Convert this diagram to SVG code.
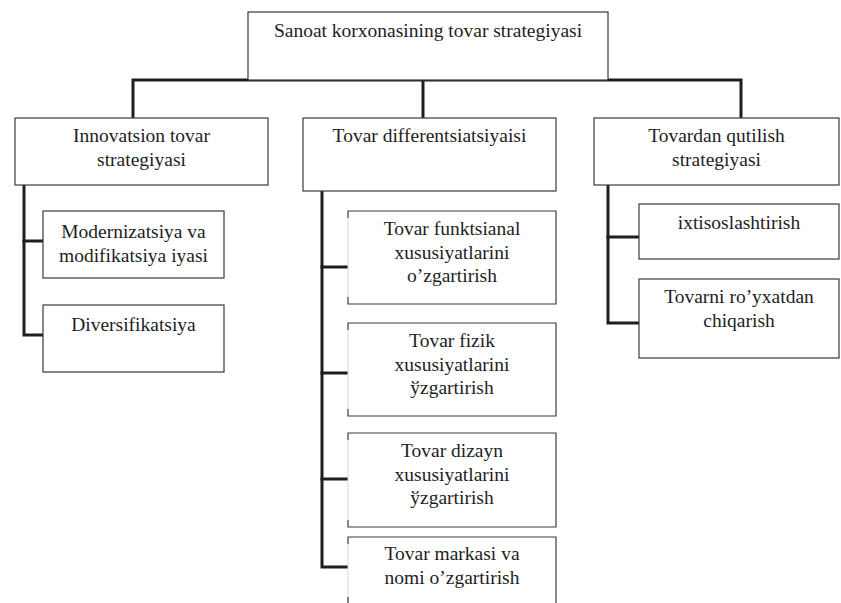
<svg xmlns="http://www.w3.org/2000/svg" width="841" height="603" viewBox="0 0 841 603">
  <style>
    .box { fill: #ffffff; stroke: #3a3a3a; stroke-width: 1.2; }
    .edge { fill: none; stroke: #3a3a3a; stroke-width: 1.2; }
    .faint { fill: none; stroke: #d8d8d8; stroke-width: 1; }
    .link { fill: none; stroke: #1e1e1e; stroke-width: 3; stroke-linejoin: miter; stroke-linecap: square; }
  </style>

  <rect width="841" height="603" fill="#ffffff"/>

  <!-- connectors -->
  <g id="connectors">
    <path class="link" d="M133,117 V80 H741 V117"/>
    <path class="link" d="M423,80 V117"/>
    <!-- left branch -->
    <path class="link" d="M24,186 V335 H42"/>
    <path class="link" d="M24,241 H42"/>
    <!-- middle branch -->
    <path class="link" d="M322,192 V567 H347"/>
    <path class="link" d="M322,267 H347"/>
    <path class="link" d="M322,373 H347"/>
    <path class="link" d="M322,479 H347"/>
    <!-- right branch -->
    <path class="link" d="M608,186 V323 H638"/>
    <path class="link" d="M608,237 H638"/>
  </g>

  <g font-family="Liberation Serif, serif" font-size="19.5" fill="#1e1e1e" text-anchor="middle">
  <!-- root -->
  <g id="root">
    <rect class="box" x="248" y="12" width="360" height="68"/>
    <text x="428" y="37">Sanoat korxonasining tovar strategiyasi</text>
  </g>

  <!-- second level -->
  <g id="innovatsion">
    <rect class="box" x="15" y="118" width="253" height="67"/>
    <text x="141.5" y="142">Innovatsion tovar</text>
    <text x="141.5" y="166">strategiyasi</text>
  </g>
  <g id="differentsiatsiya">
    <rect class="box" x="303" y="118" width="253" height="73"/>
    <text x="429.5" y="142">Tovar differentsiatsiyaisi</text>
  </g>
  <g id="qutilish">
    <rect class="box" x="594" y="118" width="245" height="67"/>
    <text x="716.5" y="142">Tovardan qutilish</text>
    <text x="716.5" y="166">strategiyasi</text>
  </g>

  <!-- innovation branch -->
  <g id="modernizatsiya">
    <rect class="box" x="43" y="211" width="181" height="67"/>
    <text x="133.5" y="238">Modernizatsiya va</text>
    <text x="133.5" y="262">modifikatsiya iyasi</text>
  </g>
  <g id="diversifikatsiya">
    <rect class="box" x="43" y="305" width="181" height="67"/>
    <text x="133.5" y="331">Diversifikatsiya</text>
  </g>

  <!-- differentiation branch: left sides only show short corner ticks -->
  <g id="funktsional">
    <rect x="348" y="211" width="208" height="93" fill="#ffffff"/>
    <path class="faint" d="M348,218 V297"/>
    <path class="edge" d="M348,218 V211 H556 V304 H348 V297"/>
    <text x="452" y="235">Tovar funktsianal</text>
    <text x="452" y="258.5">xususiyatlarini</text>
    <text x="452" y="282">o’zgartirish</text>
  </g>
  <g id="fizik">
    <rect x="348" y="323" width="208" height="93" fill="#ffffff"/>
    <path class="faint" d="M348,330 V409"/>
    <path class="edge" d="M348,330 V323 H556 V416 H348 V409"/>
    <text x="452" y="347">Tovar fizik</text>
    <text x="452" y="370.5">xususiyatlarini</text>
    <text x="452" y="394">ўzgartirish</text>
  </g>
  <g id="dizayn">
    <rect x="348" y="433" width="208" height="94" fill="#ffffff"/>
    <path class="faint" d="M348,440 V520"/>
    <path class="edge" d="M348,440 V433 H556 V527 H348 V520"/>
    <text x="452" y="457">Tovar dizayn</text>
    <text x="452" y="480.5">xususiyatlarini</text>
    <text x="452" y="504">ўzgartirish</text>
  </g>
  <g id="marka">
    <rect x="348" y="537" width="208" height="70" fill="#ffffff"/>
    <path class="faint" d="M348,544 V603"/>
    <path class="edge" d="M348,544 V537 H556 V607"/>
    <path class="edge" d="M348,597 V603"/>
    <text x="452" y="560">Tovar markasi va</text>
    <text x="452" y="584">nomi o’zgartirish</text>
  </g>

  <!-- withdrawal branch -->
  <g id="ixtisoslashtirish">
    <rect class="box" x="639" y="204" width="200" height="55"/>
    <text x="739" y="229">ixtisoslashtirish</text>
  </g>
  <g id="royxatdan">
    <rect class="box" x="639" y="279" width="200" height="79"/>
    <text x="739" y="303">Tovarni ro’yxatdan</text>
    <text x="739" y="327">chiqarish</text>
  </g>
  </g>
</svg>
